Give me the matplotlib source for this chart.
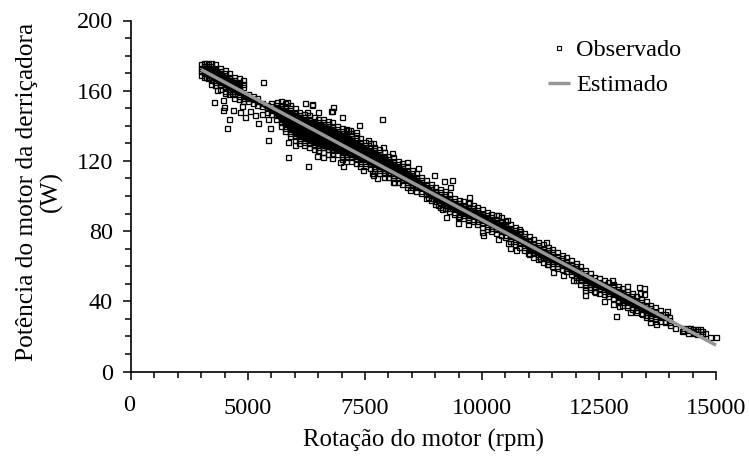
import matplotlib
matplotlib.use("Agg")
import matplotlib.pyplot as plt

plt.rcParams["font.family"] = ["Liberation Serif", "DejaVu Serif"]

# pontos isolados
solto_rpm = [5320, 4281, 4558, 4587, 4473, 4494, 4473, 4687, 4651, 4509, 4331, 4865, 4829, 4936, 5043, 5150,
             5221, 5292, 5434, 5470, 5420, 5861, 6004, 5847, 6274, 5626, 5826, 6217, 6374, 6823, 6253, 6502,
             6773, 7000, 7378, 7855, 7179, 6467, 6965, 7036, 7463, 7677, 7750, 8118, 8033, 6360, 6788, 7308,
             7144, 7571, 7678, 7877, 8069, 8390, 8625, 8974, 6610, 6788, 7642, 8105, 8461, 8853, 9031, 9189,
             9353, 9317, 9723, 9723, 10528, 10350, 10812, 11361, 9068, 9139, 9260, 9225, 9495, 9495, 9695,
             9994, 10015, 10350, 10563, 10599, 10727, 10990, 11240, 11382, 11524, 11739, 11952, 12202, 12202,
             12415, 12615, 12771, 12807, 13092, 13362, 13469, 13376, 13469, 12807, 12928, 12857, 13163, 13412,
             13590, 13711, 13946, 14017, 14124, 14266, 14444, 14658, 14872, 14993, 14765, 14515]
solto_w = [165, 153.4, 139, 144, 154.7, 150.9, 149, 149, 158.5, 158.5, 160.4, 151, 147.7, 145.2, 148.6, 146,
           141.4, 147, 144, 138.5, 131.9, 131, 129, 122.4, 117.3, 153.7, 153.7, 153, 152.4, 150.9, 148, 148,
           148.4, 144.8, 140.4, 143.9, 137.6, 123, 119.2, 117, 114.8, 112, 110, 107.8, 113, 152, 148.6, 136.7,
           137.6, 131.9, 130, 127.7, 124.7, 119.5, 115.7, 112, 122.4, 121.4, 112.9, 107.8, 103.4, 99.6, 100,
           108.5, 109, 105, 99.6, 96.8, 86.3, 89, 80.2, 74, 94.9, 92.4, 93, 87.8, 88.2, 84.8, 84, 79.6, 77.7,
           75.3, 73.4, 70.5, 69.2, 67.3, 64.5, 61, 56.5, 55, 52, 46.4, 43.6, 45.5, 40, 52, 49, 48.9, 48.3, 47.7,
           44.5, 44, 38.2, 37.3, 31.6, 33.7, 32.5, 28.4, 27, 34.4, 26.5, 25, 23.2, 24.6, 24, 19.8, 19.8, 21.7, 22.6]

faixa = {
    4000: [175, 173, 171, 169], 4050: [176, 174, 172, 170, 168], 4100: [176, 174, 172, 170, 168],
    4150: [175, 173, 171, 169, 167], 4200: [176, 174, 172, 170, 168, 166, 164],
    4300: [175, 173, 171, 169, 167, 165, 163], 4400: [173, 171, 169, 167, 165, 163, 161],
    4500: [172, 170, 168, 166, 164, 162, 160], 4600: [170, 168, 166, 164, 162, 160, 158],
    4700: [168, 166, 164, 162, 160, 158, 156], 4800: [167, 165, 163, 161, 159, 157, 155],
    4900: [166, 164, 162, 158, 156, 154], 5000: [158, 156, 154], 5100: [157, 155, 153],
    5200: [156, 154, 152], 5300: [153, 151], 5400: [152, 150, 148], 5500: [153, 151, 149, 147],
    5600: [152, 150, 148, 146, 144], 5700: [154, 152, 150, 148, 146, 144, 142, 140],
    5800: [153, 151, 149, 147, 145, 143, 141, 139, 137], 5900: [152, 150, 148, 146, 144, 142, 140, 138, 136, 134],
    6000: [150, 148, 146, 144, 142, 140, 138, 136, 134, 132], 6100: [148, 146, 144, 142, 140, 138, 136, 134, 132, 130],
    6200: [147, 145, 143, 141, 139, 137, 135, 133, 131, 129], 6300: [146, 144, 142, 140, 138, 136, 134, 132, 130, 128],
    6400: [145, 143, 141, 139, 137, 135, 133, 131, 129, 127], 6500: [144, 142, 140, 138, 136, 134, 132, 130, 128, 126],
    6600: [144, 142, 140, 138, 136, 134, 132, 130, 128, 125], 6700: [143, 141, 139, 137, 135, 133, 131, 129, 127, 124],
    6800: [142, 140, 138, 136, 134, 132, 130, 128, 126, 124], 6900: [140, 138, 136, 134, 132, 130, 128, 126, 124],
    7000: [139, 137, 135, 133, 131, 129, 127, 125, 123, 121], 7100: [138, 136, 134, 132, 130, 128, 126, 124, 122, 120],
    7200: [136, 134, 132, 130, 128, 126, 124, 122, 120], 7300: [135, 133, 131, 129, 127, 125, 123, 121, 119],
    7400: [133, 131, 129, 127, 125, 123, 121, 119, 117], 7500: [131, 129, 127, 125, 123, 121, 119, 117],
    7600: [130, 128, 126, 124, 122, 120, 118, 116], 7700: [128, 126, 124, 122, 120, 118, 116, 114],
    7800: [127, 125, 123, 121, 119, 117, 115, 113], 7900: [125, 123, 121, 119, 117, 115, 113, 111],
    8000: [123, 121, 119, 117, 115, 113, 111], 8100: [122, 120, 118, 116, 114, 112, 110],
    8200: [120, 118, 116, 114, 112, 110, 108], 8300: [119, 117, 115, 113, 111, 109, 107],
    8400: [117, 115, 113, 111, 109, 107, 105], 8500: [115, 113, 111, 109, 107, 105],
    8600: [113, 111, 109, 107, 105, 103], 8700: [111, 109, 107, 105, 103, 101.5],
    8800: [109, 107, 105, 103, 101, 99], 8900: [107, 105, 103, 101, 99, 97.5],
    9000: [105, 103, 101, 99, 97, 95.5], 9100: [104, 102, 100, 98, 96, 94],
    9200: [103, 101, 99, 97, 95, 93], 9300: [101, 99, 97, 95, 93, 91.5],
    9400: [99, 97, 95, 93, 91, 90], 9500: [98, 96, 94, 92, 90, 88.5],
    9600: [97, 95, 93, 91, 89, 87.5], 9700: [96, 94, 92, 90, 88, 86.5],
    9800: [95, 93, 91, 89, 87, 85.5], 9900: [94, 92, 90, 88, 86, 84],
    10000: [92.5, 90.5, 88.5, 86.5, 84.5, 82.5], 10100: [91, 89, 87, 85, 83, 81],
    10200: [90, 88, 86, 84, 82, 80], 10300: [89, 87, 85, 83, 81, 79],
    10400: [88, 86, 84, 82, 80, 78], 10500: [86, 84, 82, 80, 78, 76.5],
    10600: [84, 82, 80, 78, 76, 74.5], 10700: [82.5, 80.5, 78.5, 76.5, 74.5, 72.5],
    10800: [81, 79, 77, 75, 73, 71], 10900: [79, 77, 75, 73, 71, 69],
    11000: [77, 75, 73, 71, 69, 67], 11100: [75.5, 73.5, 71.5, 69.5, 67.5, 65.5],
    11200: [74, 72, 70, 68, 66, 64], 11300: [72.5, 70.5, 68.5, 66.5, 64.5, 62.5],
    11400: [71, 69, 67, 65, 63, 61], 11500: [70, 68, 66, 64, 62, 60],
    11600: [68, 66, 64, 62, 60, 59], 11700: [66.5, 64.5, 62.5, 60.5, 58.5],
    11800: [65, 63, 61, 59, 57], 11900: [63.5, 61.5, 59.5, 57.5, 55.5],
    12000: [62, 60, 58, 56, 54, 52], 12100: [60, 58, 56, 54, 52, 50],
    12200: [58, 56, 54, 52, 50, 48], 12300: [56, 54, 52, 50, 48, 47],
    12400: [54, 52, 50, 48, 46], 12500: [53, 51, 49, 47, 45], 12600: [52, 50, 48, 46, 44],
    12700: [51, 49, 47, 45, 43], 12800: [50, 48, 46, 44, 42], 12900: [49, 47, 45, 43, 41, 39.5],
    13000: [47.5, 45.5, 43.5, 41.5, 39.5, 38], 13100: [46, 44, 42, 40, 38, 36.5],
    13200: [45, 43, 41, 39, 37, 35.5], 13300: [43, 41, 39, 37, 35, 34], 13400: [41.5, 39.5, 37.5, 35.5, 33.5],
    13500: [40, 38, 36, 34, 32, 31], 13600: [38, 36, 34, 32, 30.5], 13700: [36.5, 34.5, 32.5, 30.5, 29],
    13800: [35, 33, 31, 29], 13900: [33, 31, 29, 28], 14000: [31, 29.5, 28],
    14300: [25, 23.5], 14400: [25, 23.5, 22], 14500: [24.5, 23, 22], 14600: [24.5, 23, 21.5], 14700: [23, 21.5],
}

# miolo da faixa, onde os quadrados se sobrepoem e viram preto solido
miolo_rpm = [4000, 4300, 4600, 4850, 4900, 5100, 5300, 5500, 5700, 6000, 6300, 6600, 6900, 7200, 7500, 7800, 8100, 8400,
             8700, 9000, 9300, 9600, 9900, 10200, 10500, 10800, 11100, 11400, 11700, 12000, 12300, 12600, 12900, 13200,
             13500, 13800, 14000]
miolo_topo = [174, 174, 168, 165, 160, 156, 152, 151, 151, 148, 144, 142, 138, 134, 129, 125, 120, 115,
              109, 103, 99, 95, 92, 88, 84, 79, 73, 69, 64, 60, 54, 50, 47, 43,
              38, 33, 30]
miolo_base = [170, 165, 160, 157, 155, 154, 151, 148, 142, 134, 130, 127, 125, 122, 119, 115, 112, 107,
              103, 97, 93, 89, 86, 82, 78, 73, 67, 63, 60, 54, 49, 46, 41, 37,
              33, 30, 29]

obs_rpm = list(solto_rpm)
obs_w = list(solto_w)
for rpm, valores in faixa.items():
    obs_rpm += [rpm] * len(valores)
    obs_w += valores

est_rpm = [4000, 15000]
est_w = [172, 15]

fig = plt.figure(figsize=(7.49, 4.57), dpi=100)
ax = fig.add_axes([131 / 749, 1 - 371.5 / 457, 585 / 749, 351 / 457])

ax.fill_between(miolo_rpm, miolo_base, miolo_topo, color="black", lw=0)
ax.plot(obs_rpm, obs_w, ls="none", marker="s", ms=3.6, mfc="none", mec="black", mew=0.95, clip_on=False)
linha, = ax.plot(est_rpm, est_w, color="#979797", lw=2.5, solid_capstyle="butt", clip_on=False)

ax.set_xlim(2500, 15000)
ax.set_ylim(0, 200)
ax.spines["top"].set_visible(False)
ax.spines["right"].set_visible(False)
ax.spines["left"].set_linewidth(1.2)
ax.spines["bottom"].set_linewidth(1.2)

ax.set_xticks([2500, 5000, 7500, 10000, 12500, 15000])
ax.set_xticklabels(["", "5000", "7500", "10000", "12500", "15000"])
ax.set_xticks(range(2500, 15000, 500), minor=True)
ax.set_yticks(range(0, 201, 40))
ax.set_yticks(range(0, 201, 10), minor=True)
ax.tick_params(which="major", length=6, width=1.1, labelsize=17.5, pad=13)
ax.tick_params(which="minor", length=4, width=1.1)
ax.tick_params(axis="y", pad=7)

# o zero do eixo x fica um pouco mais alto e a esquerda
ax.annotate("0", xy=(2500, 0), xycoords="data", xytext=(-2, -34), textcoords="offset pixels", ha="center", va="center", fontsize=17.5)

ax.set_xlabel("Rotação do motor (rpm)", fontsize=17.8, labelpad=7)
fig.text(39 / 749, 1 - 192 / 457, "Potência do motor da derriçadora\n(W)", rotation=90, ha="center", va="center", ma="center", fontsize=18.3, linespacing=1.1)

marca, = ax.plot([], [], ls="none", marker="s", ms=3, mfc="none", mec="black", mew=0.8)
ax.legend([marca, linha], ["Observado", "Estimado"], loc="upper left", bbox_to_anchor=(0.713, 0.947), frameon=False, fontsize=17.5,
          handlelength=0.9, handletextpad=0.25, labelspacing=0.55, borderpad=0, borderaxespad=0)

fig.savefig("out.png", dpi=100)
